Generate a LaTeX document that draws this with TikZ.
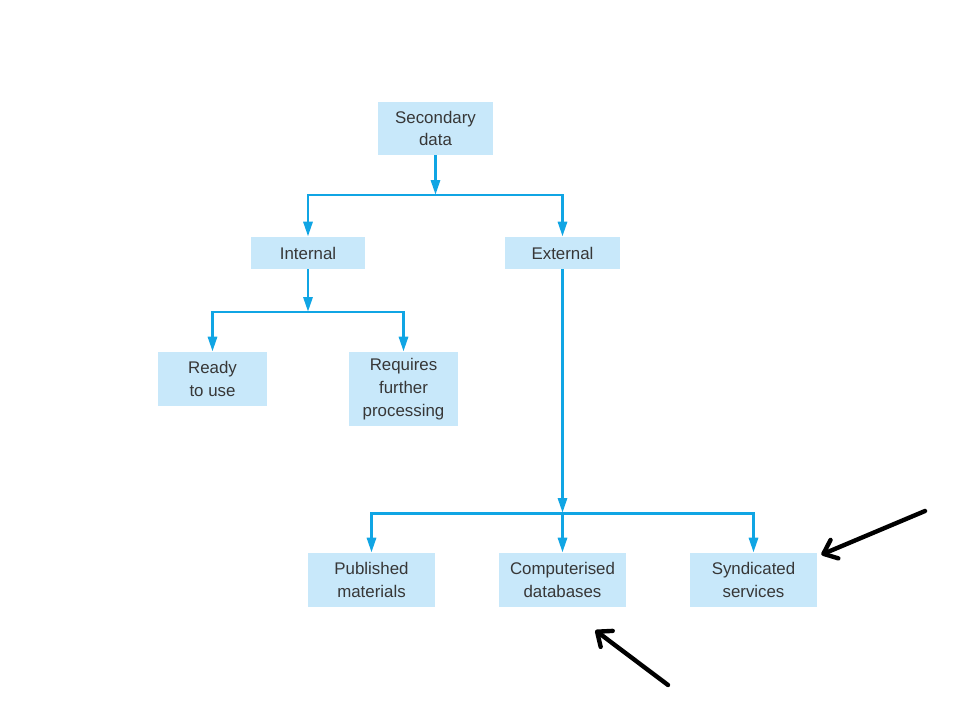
\documentclass[tikz,border=0pt]{standalone}
\usepackage{fontspec}
\setmainfont{Liberation Sans}
\usetikzlibrary{arrows.meta}
\definecolor{flowblue}{RGB}{16,165,228}
\definecolor{boxblue}{RGB}{200,232,250}
\definecolor{boxtext}{RGB}{55,55,55}

\begin{document}
\begin{tikzpicture}[x=0.02cm,y=-0.02cm,
    box/.style={fill=boxblue, text=boxtext, inner sep=0pt, align=center, font=\fontsize{9.6}{13}\selectfont},
    link/.style={flowblue, line width=1.7pt, -{Triangle[length=0.3cm,width=0.18cm]}},
    pointer/.style={black, line width=2.5pt, line cap=round, -{Straight Barb[length=0.24cm,width=0.4cm,round]}}]
    \useasboundingbox (0,0) rectangle (960,720);
    % boxes
    \node [box, minimum width=2.30cm, minimum height=1.06cm] (sec) at (435.5,128.5) {Secondary\\data};
    \node [box, minimum width=2.28cm, minimum height=0.64cm] (int) at (308,253) {Internal};
    \node [box, minimum width=2.30cm, minimum height=0.64cm] (ext) at (562.5,253) {External};
    \node [box, minimum width=2.18cm, minimum height=1.08cm] (ready) at (212.5,379) {Ready\\to use};
    \node [box, minimum width=2.18cm, minimum height=1.48cm] (req) at (403.5,389) {Requires\\further\\processing};
    \node [box, minimum width=2.54cm, minimum height=1.08cm] (pub) at (371.5,580) {Published\\materials};
    \node [box, minimum width=2.54cm, minimum height=1.08cm] (comp) at (562.5,580) {Computerised\\databases};
    \node [box, minimum width=2.54cm, minimum height=1.08cm] (syn) at (753.5,580) {Syndicated\\services};
    % branch points
    \coordinate (j1) at (435.5,195);
    \coordinate (j2) at (308,312);
    \coordinate (j3) at (562.5,513);
    % connectors
    \draw [link] (sec) -- (j1);
    \draw [link] (j1) -| (int);
    \draw [link] (j1) -| (ext);
    \draw [link] (int) -- (j2);
    \draw [link] (j2) -| (ready);
    \draw [link] (j2) -| (req);
    \draw [link] (ext) -- (j3);
    \draw [link] (j3) -| (pub);
    \draw [link] (j3) -- (comp);
    \draw [link] (j3) -| (syn);
    % pointers
    \coordinate (p1) at (925,511);
    \coordinate (p1tip) at ([shift={(4,2)}]syn.north east);
    \coordinate (p2) at (668,685);
    \coordinate (p2tip) at ([shift={(-31,23)}]comp.south east);
    \draw [pointer] (p1) -- (p1tip);
    \draw [pointer] (p2) -- (p2tip);
\end{tikzpicture}
\end{document}
